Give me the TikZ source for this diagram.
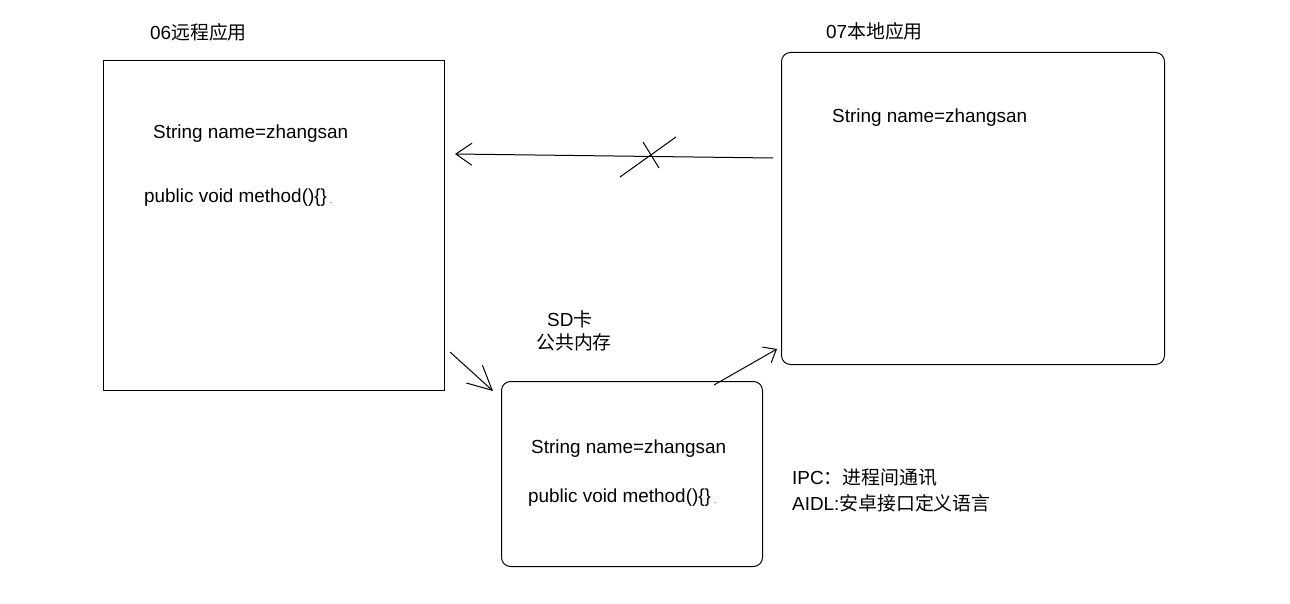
\documentclass[tikz,border=0pt]{standalone}
\usepackage{fontspec}
\setmainfont{Liberation Sans}
\newfontfamily\cjk{Noto Sans CJK SC}
\usetikzlibrary{arrows.meta}
\begin{document}
\begin{tikzpicture}[x=1pt,y=-1pt,
  txt/.style={anchor=west,inner sep=0pt,font=\fontsize{18.9}{22}\selectfont},
  sharpbox/.style={draw,line width=1pt,inner sep=0pt,anchor=north west},
  roundbox/.style={draw,line width=1pt,rounded corners=9pt,inner sep=0pt,anchor=north west},
  conn/.style={line width=1pt},
  thin/.style={line width=1pt}]
\useasboundingbox (0,0) rectangle (1290,604);
% boxes
\node[sharpbox,minimum width=341pt,minimum height=330pt] (remote) at (103,60) {};
\node[roundbox,minimum width=383pt,minimum height=312pt] (local) at (781,52) {};
\node[roundbox,minimum width=261pt,minimum height=185pt] (sd) at (501,381) {};
% titles
\node[txt] (t06) at (150,32) {06{\cjk 远程应用}};
\node[txt] (t07) at (826,31) {07{\cjk 本地应用}};
\node[txt] (tsd) at (547,319) {SD{\cjk 卡}};
\node[txt] (tmem) at (536,342) {\cjk 公共内存};
\node[txt] (ipc) at (792,478) {IPC{\cjk ：进程间通讯}};
\node[txt] (aidl) at (792,503) {AIDL:{\cjk 安卓接口定义语言}};
% box contents
\node[txt] (r1) at (153,134) {String name=zhangsan};
\node[txt] (r2) at (144,198) {public void method()\{\}\,\raisebox{-1pt}{\fontsize{8}{8}\selectfont .}};
\node[txt] (l1) at (832,118) {String name=zhangsan};
\node[txt] (s1) at (531,449) {String name=zhangsan};
\node[txt] (s2) at (528,498) {public void method()\{\}\,\raisebox{-1pt}{\fontsize{8}{8}\selectfont .}};
% connectors
\coordinate (a1s) at (773,158);
\coordinate (a1e) at (455,154);
\draw[conn,-{Straight Barb[length=16pt,width=22pt,line width=1pt]}] (a1s) -- (a1e);
\coordinate (x1a) at (620,177);
\coordinate (x1b) at (676,137);
\coordinate (x2a) at (643,142);
\coordinate (x2b) at (659,168);
\draw[thin] (x1a) -- (x1b);
\draw[thin] (x2a) -- (x2b);
\coordinate (a2s) at (450,352);
\coordinate (a2e) at (493,391);
\draw[conn,-{Straight Barb[length=24pt,width=24pt,line width=1pt]}] (a2s) -- (a2e);
\coordinate (a3s) at (714,385);
\coordinate (a3e) at (777,349);
\draw[conn,-{Straight Barb[length=11pt,width=18pt,line width=1pt]}] (a3s) -- (a3e);
\end{tikzpicture}
\end{document}
